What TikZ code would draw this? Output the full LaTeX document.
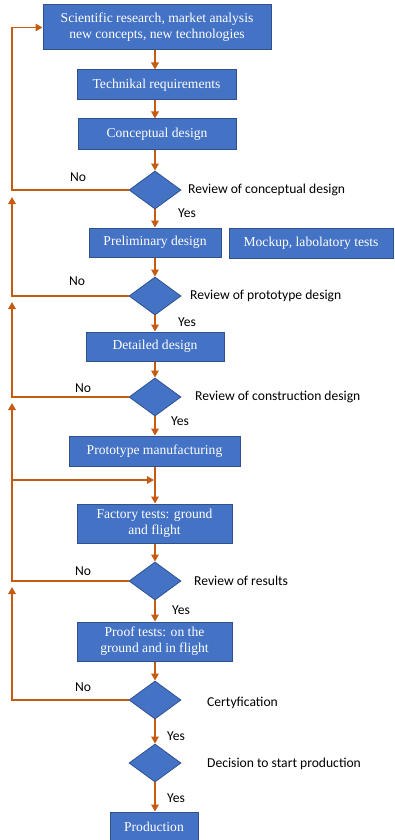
\documentclass[tikz,border=0pt]{standalone}
\usepackage{fontspec}
\setmainfont{Liberation Serif}
\newfontfamily\labfont{Carlito}
\usetikzlibrary{shapes.geometric,arrows.meta}
\definecolor{boxblue}{HTML}{4472C4}
\definecolor{boxedge}{HTML}{2F528F}
\definecolor{flow}{HTML}{C55A11}
\tikzset{
  box/.style={draw=boxedge, line width=1pt, fill=boxblue, text=white,
    font=\fontsize{13.6}{16}\selectfont, inner sep=0pt, align=center},
  dec/.style={diamond, draw=boxedge, line width=0.8pt, fill=boxblue,
    inner sep=0pt, minimum width=52pt, minimum height=38pt},
  lbl/.style={font=\labfont\fontsize{13.6}{15}\selectfont, anchor=west, inner sep=0pt},
  yn/.style={font=\labfont\fontsize{13.6}{15}\selectfont, inner sep=0pt},
  arr/.style={draw=flow, line width=1.5pt, -{Triangle[length=7pt,width=7.5pt]}},
}
\begin{document}
\begin{tikzpicture}[x=1pt,y=-1pt]
\useasboundingbox (0,0) rectangle (394,840);
\fill[white] (0,0) rectangle (394,840);
\coordinate (C) at (155,0);
\coordinate (L) at (12,0);
% boxes
\node[box, minimum width=228pt, minimum height=45pt] (b1) at (157,27.5) {Scientific research, market analysis\\new concepts, new technologies};
\node[box, minimum width=159pt, minimum height=30pt] (b2) at (156.5,85) {Technikal requirements};
\node[box, minimum width=158pt, minimum height=30pt] (b3) at (157,134) {Conceptual design};
\node[dec] (d1) at (155,190) {};
\node[box, minimum width=132pt, minimum height=29pt] (b4) at (155,242.5) {Preliminary design};
\node[box, minimum width=164pt, minimum height=30pt] (m) at (311,243) {Mockup, labolatory tests};
\node[dec] (d2) at (155,296) {};
\node[box, minimum width=138pt, minimum height=29pt] (b5) at (155,346.5) {Detailed design};
\node[dec] (d3) at (155,397) {};
\node[box, minimum width=171pt, minimum height=30pt] (b6) at (154.5,451) {Prototype manufacturing};
\node[box, minimum width=155pt, minimum height=39pt] (b7) at (154.5,523.5) {Factory tests: ground\\and flight};
\node[dec] (d4) at (155,581) {};
\node[box, minimum width=155pt, minimum height=39pt] (b8) at (154.5,641.5) {Proof tests: on the\\ground and in flight};
\node[dec] (d5) at (155,700) {};
\node[dec] (d6) at (155,763) {};
\node[box, minimum width=88pt, minimum height=30pt] (b9) at (154,827) {Production};
% down arrows
\draw[arr] (b1.south -| C) -- (b2.north -| C);
\draw[arr] (b2.south -| C) -- (b3.north -| C);
\draw[arr] (b3.south -| C) -- (d1.north);
\draw[arr] (d1.south) -- (b4.north -| C);
\draw[arr] (b4.south -| C) -- (d2.north);
\draw[arr] (d2.south) -- (b5.north -| C);
\draw[arr] (b5.south -| C) -- (d3.north);
\draw[arr] (d3.south) -- (b6.north -| C);
\draw[arr] (b6.south -| C) -- (b7.north -| C);
\draw[arr] (b7.south -| C) -- (d4.north);
\draw[arr] (d4.south) -- (b8.north -| C);
\draw[arr] (b8.south -| C) -- (d5.north);
\draw[arr] (d5.south) -- (d6.north);
\draw[arr] (d6.south) -- (b9.north -| C);
% feedback loops
\coordinate (u2) at (12,197);
\coordinate (u3) at (12,302);
\coordinate (u4) at (12,403);
\coordinate (u5) at (12,587);
\coordinate (j) at (12,480);
\coordinate (jt) at (154,480);
\draw[arr] (d1.west) -- (d1.west -| L) |- (b1.west);
\draw[arr] (d2.west) -- (d2.west -| L) -- (u2);
\draw[arr] (d3.west) -- (d3.west -| L) -- (u3);
\draw[arr] (d4.west) -- (d4.west -| L) -- (u4);
\draw[arr] (j) -- (jt);
\draw[arr] (d5.west) -- (d5.west -| L) -- (u5);
% labels
\node[lbl] (r1) at (188,190) {Review of conceptual design};
\node[lbl] (r2) at (190,296) {Review of prototype design};
\node[lbl] (r3) at (195,397) {Review of construction design};
\node[lbl] (r4) at (194,581) {Review of results};
\node[lbl] (r5) at (207,703) {Certyfication};
\node[lbl] (r6) at (207,764) {Decision to start production};
\node[yn] (n1) at (78,177) {No};
\node[yn] (n2) at (77,281) {No};
\node[yn] (n3) at (83,388) {No};
\node[yn] (n4) at (83,571) {No};
\node[yn] (n5) at (83,687) {No};
\node[yn] (y1) at (187,213) {Yes};
\node[yn] (y2) at (187,322) {Yes};
\node[yn] (y3) at (180,421) {Yes};
\node[yn] (y4) at (181,610) {Yes};
\node[yn] (y5) at (176,736) {Yes};
\node[yn] (y6) at (176,798) {Yes};
\end{tikzpicture}
\end{document}
